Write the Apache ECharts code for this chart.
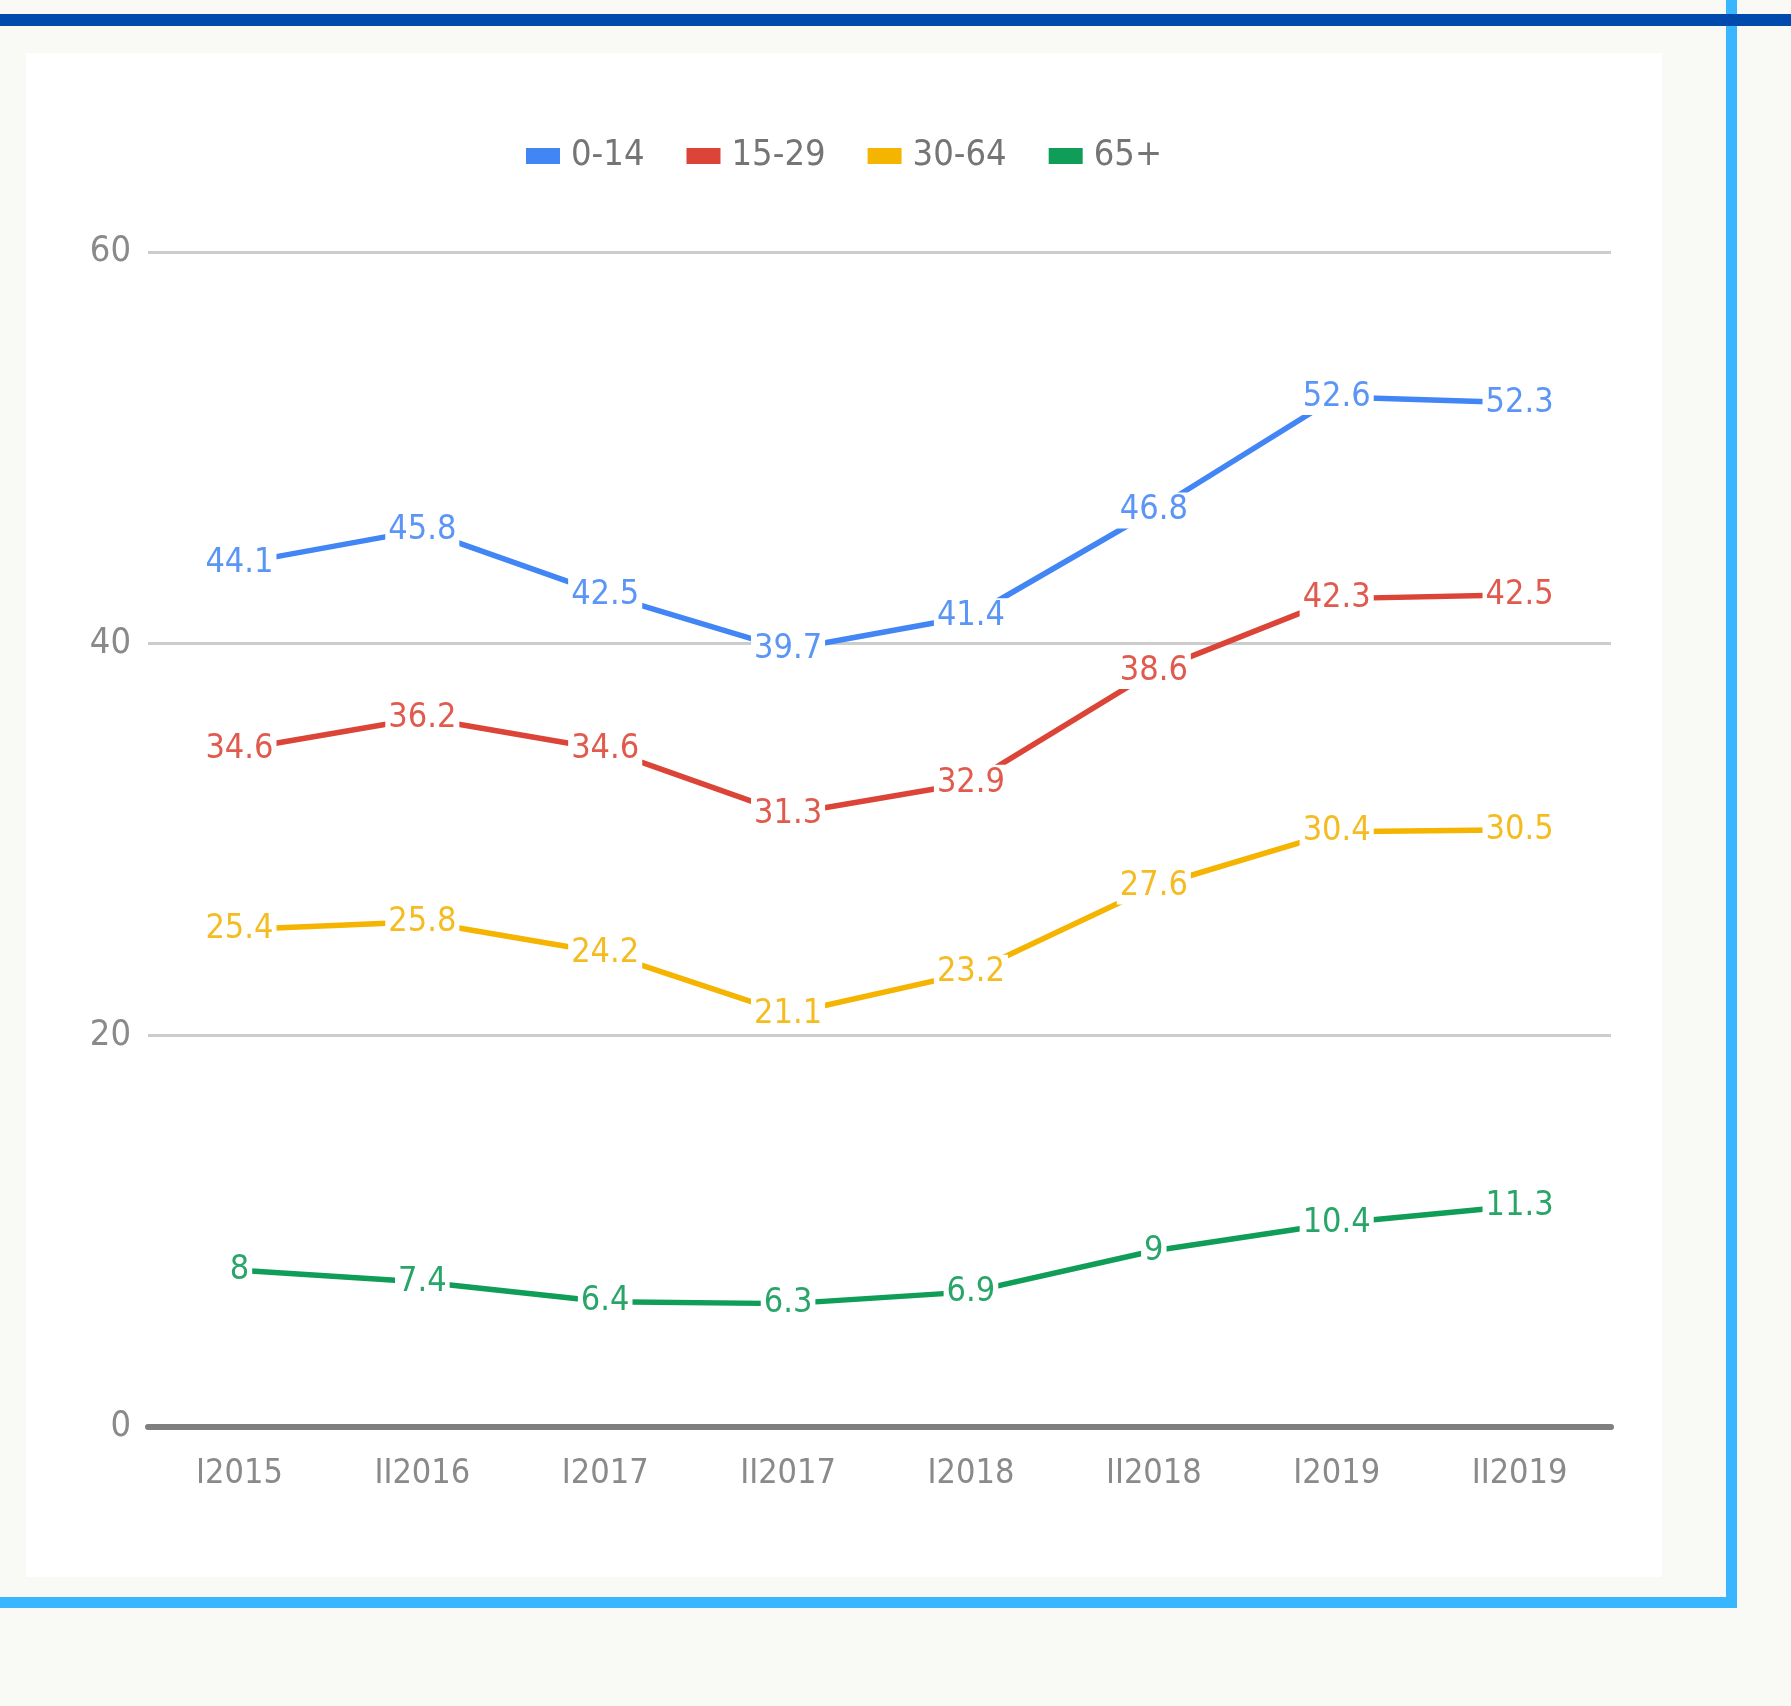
<!DOCTYPE html>
<html>
<head>
<meta charset="utf-8">
<script src="https://cdn.jsdelivr.net/npm/echarts@6/dist/echarts.min.js"></script>
<style>
  html, body { margin: 0; padding: 0; background: #F9FAF5; }
  body { width: 1791px; height: 1706px; position: relative; overflow: hidden; }
  .topbar { position: absolute; left: 0; top: 14px; width: 1791px; height: 12px; background: #004AAD; }
  .rightbar { position: absolute; left: 1726px; top: 0; width: 11px; height: 1608px; background: #38B6FF; }
  .bottombar { position: absolute; left: 0; top: 1597px; width: 1737px; height: 11px; background: #38B6FF; }
  .panel { position: absolute; left: 26px; top: 53px; width: 1636px; height: 1524px; background: #FFFFFF; }
  #chart { position: absolute; left: 0; top: 0; width: 1791px; height: 1706px; }
</style>
</head>
<body>
<div class="panel"></div>
<div class="rightbar"></div>
<div class="topbar"></div>
<div class="bottombar"></div>
<div id="chart"></div>
<script>
const categories = ['I2015', 'II2016', 'I2017', 'II2017', 'I2018', 'II2018', 'I2019', 'II2019'];
const seriesNames = ['0-14', '15-29', '30-64', '65+'];
const age0_14 = [44.1, 45.8, 42.5, 39.7, 41.4, 46.8, 52.6, 52.3];
const age15_29 = [34.6, 36.2, 34.6, 31.3, 32.9, 38.6, 42.3, 42.5];
const age30_64 = [25.4, 25.8, 24.2, 21.1, 23.2, 27.6, 30.4, 30.5];
const age65plus = [8, 7.4, 6.4, 6.3, 6.9, 9, 10.4, 11.3];
const yTicks = [0, 20, 40, 60];

const FONT = "'Liberation Sans Narrow', 'DejaVu Sans Condensed', 'Roboto Condensed', Roboto, sans-serif";
const lineColors = ['#4285F4', '#DB4437', '#F4B400', '#0F9D58'];
const labelColors = ['#5B95F5', '#E05A4E', '#F5BC22', '#2AA56A'];
const allData = [age0_14, age15_29, age30_64, age65plus];

const chart = echarts.init(document.getElementById('chart'), null, { renderer: 'canvas' });
chart.setOption({
  backgroundColor: 'transparent',
  textStyle: { fontFamily: FONT },
  animation: false,
  legend: {
    top: 133,
    left: 521,
    icon: 'rect',
    itemWidth: 34,
    itemHeight: 16,
    itemGap: 42,
    textStyle: { fontFamily: FONT, fontSize: 36, color: '#757575', padding: [0, 0, 0, 6] },
    data: seriesNames
  },
  grid: { left: 148, right: 180, top: 252, bottom: 279, containLabel: false },
  xAxis: {
    type: 'category',
    data: categories,
    boundaryGap: true,
    axisLine: { show: true, lineStyle: { color: '#7F7F7F', width: 6 } },
    axisTick: { show: false },
    axisLabel: { fontFamily: FONT, fontSize: 34, color: '#8A8A8A', margin: 30 },
    splitLine: { show: false }
  },
  yAxis: {
    type: 'value',
    min: yTicks[0],
    max: yTicks[yTicks.length - 1],
    interval: 20,
    axisLine: { show: false },
    axisTick: { show: false },
    axisLabel: { fontFamily: FONT, fontSize: 36, color: '#8A8A8A', margin: 17 },
    splitLine: { show: true, lineStyle: { color: '#CCCCCC', width: 3 } }
  },
  series: allData.map((d, i) => ({
    name: seriesNames[i],
    type: 'line',
    data: d,
    z: 2,
    symbol: 'circle',
    symbolSize: 1,
    showSymbol: true,
    itemStyle: { color: lineColors[i] },
    lineStyle: { color: lineColors[i], width: 5.5 },
    label: {
      show: true,
      position: 'inside',
      fontFamily: FONT,
      fontSize: 34,
      color: labelColors[i],
      backgroundColor: '#FFFFFF',
      padding: [0, 3, 0, 3],
      lineHeight: 36
    },
    emphasis: { disabled: true }
  }))
});
</script>
</body>
</html>
